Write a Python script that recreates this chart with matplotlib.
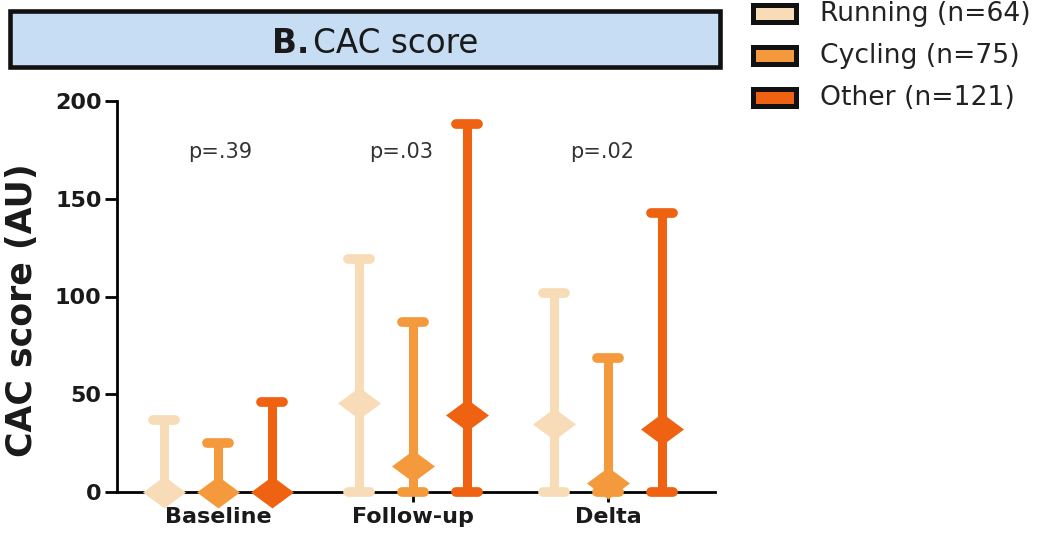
import matplotlib
matplotlib.use("Agg")
import matplotlib.pyplot as plt
from matplotlib.patches import Rectangle
from matplotlib.path import Path
from matplotlib.markers import MarkerStyle
import numpy as np

plt.rcParams['font.family'] = ['DejaVu Sans']

# Data: median (diamond) and range (bar) of the CAC score per group
timepoints = ["Baseline", "Follow-up", "Delta"]
sports = ["Running (n=64)", "Cycling (n=75)", "Other (n=121)"]
colors = ["#F8DCB8", "#F59A3C", "#EE6212"]
medians = {
    "Running (n=64)": [0, 45.5, 35],
    "Cycling (n=75)": [0, 13.5, 4.5],
    "Other (n=121)": [0, 39.5, 32],
}
upper = {
    "Running (n=64)": [37, 119, 102],
    "Cycling (n=75)": [25, 87, 68.5],
    "Other (n=121)": [46, 188, 142.5],
}
lower = {
    "Running (n=64)": [0, 0, 0],
    "Cycling (n=75)": [0, 0, 0],
    "Other (n=121)": [0, 0, 0],
}
p_values = ["p=.39", "p=.03", "p=.02"]
p_y = 174

W, H = 1056, 534
fig = plt.figure(figsize=(W / 100, H / 100), dpi=100)


def px_box(x0, y0, x1, y1):
    return [x0 / W, 1 - y1 / H, (x1 - x0) / W, (y1 - y0) / H]


ax = fig.add_axes(px_box(117, 101, 715, 492))

diamond = Path([(-1, 0), (0, 0.74), (1, 0), (0, -0.74), (-1, 0)],
               [Path.MOVETO, Path.LINETO, Path.LINETO, Path.LINETO, Path.CLOSEPOLY])
pill_cap = MarkerStyle('_', capstyle='round')

centers = np.arange(len(timepoints))
offsets = [-0.277, 0.0, 0.277]
for k, s in enumerate(sports):
    xs = centers + offsets[k]
    med = np.array(medians[s], dtype=float)
    lo = med - np.array(lower[s])
    hi = np.array(upper[s]) - med
    _, caps, _ = ax.errorbar(xs, med, yerr=[lo, hi], fmt='none', ecolor=colors[k],
                             elinewidth=6.5, capsize=8, capthick=7,
                             clip_on=False, zorder=3)
    for c in caps:
        c.set_marker(pill_cap)
        c.set_clip_on(False)
    ax.plot(xs, med, linestyle='none', marker=diamond, markersize=31,
            color=colors[k], markeredgewidth=0, clip_on=False, zorder=4)

for i, p in enumerate(p_values):
    ax.text(centers[i] + [0.01, -0.06, -0.03][i], p_y, p, ha='center', va='center',
            fontsize=15, color='#333333')

ax.set_ylim(0, 200)
ax.set_xlim(-0.518, 2.549)
ax.set_yticks([0, 50, 100, 150, 200])
ax.set_xticks(centers)
ax.set_xticklabels(timepoints, fontsize=16, fontweight='bold', color='#1a1a1a')
ax.tick_params(axis='y', labelsize=16, width=2, length=9, pad=2, labelcolor='#1a1a1a')
ax.tick_params(axis='x', width=2, length=7, pad=4)
for lab in ax.get_yticklabels():
    lab.set_fontweight('bold')
ax.spines['top'].set_visible(False)
ax.spines['right'].set_visible(False)
ax.spines['left'].set_linewidth(2)
ax.spines['bottom'].set_linewidth(2)
ax.set_ylabel("CAC score (AU)", fontsize=25, fontweight='bold', color='#1a1a1a')
ax.yaxis.set_label_coords(-0.13, 0.465)

# Title box
fig.patches.append(Rectangle((10 / W, 1 - 67 / H), 710 / W, 56 / H,
                             transform=fig.transFigure, facecolor='#C6DDF3',
                             edgecolor='#111111', linewidth=3.3))
fig.text(272 / W, 1 - 53 / H, "B.", fontsize=23.5, fontweight='bold',
         ha='left', va='baseline', color='#1a1a1a')
fig.text(313 / W, 1 - 53 / H, "CAC score", fontsize=23.5,
         ha='left', va='baseline', color='#1a1a1a')

# Legend
box_y = [13, 55, 97]
text_base = [21, 63, 105]
for k, s in enumerate(sports):
    fig.patches.append(Rectangle((752.5 / W, 1 - (box_y[k] + 8.5) / H), 43 / W, 17 / H,
                                 transform=fig.transFigure, facecolor=colors[k],
                                 edgecolor='#111111', linewidth=3.6))
    fig.text(820 / W, 1 - text_base[k] / H, s, fontsize=19.2, ha='left',
             va='baseline', color='#222222')

fig.savefig("out.png", dpi=100)
